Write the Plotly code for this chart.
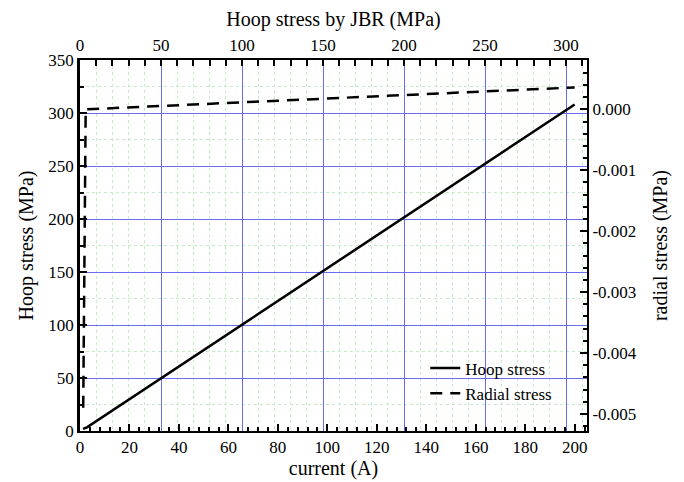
import plotly.graph_objects as go

# data
current_hoop = [1.2, 2.8, 200]
hoop_stress = [2.0, 3.5, 308]

current_radial = [1.3, 2.3, 200]
radial_stress = [-0.0049, 0.0, 0.00036]

jbr_ticks = [0, 50, 100, 150, 200, 250, 300]
radial_ticks = [0.0, -0.001, -0.002, -0.003, -0.004, -0.005]
radial_labels = ["0.000", "-0.001", "-0.002", "-0.003", "-0.004", "-0.005"]

FONT = "Liberation Serif, Times New Roman, serif"
BLUE = "#6c6cf0"
GREEN = "#c6ecc6"
BLACK = "#000000"

# minor positions that don't sit on a major line
top_minor = [v for v in range(0, 320, 10) if v % 50]
left_minor = [v for v in range(25, 350, 50)]

fig = go.Figure()

fig.add_trace(go.Scatter(
    x=current_hoop, y=hoop_stress, mode="lines", name="Hoop stress",
    line=dict(color=BLACK, width=2.5),
    xaxis="x", yaxis="y",
))
fig.add_trace(go.Scatter(
    x=current_radial, y=radial_stress, mode="lines", name="Radial stress",
    line=dict(color=BLACK, width=2.5, dash="12px,8px"),
    xaxis="x", yaxis="y2",
))
# keeps the top axis alive
fig.add_trace(go.Scatter(
    x=jbr_ticks, y=[0] * len(jbr_ticks), mode="markers",
    marker=dict(opacity=0), showlegend=False, hoverinfo="skip",
    xaxis="x2", yaxis="y",
))

tickfont = dict(family=FONT, size=17, color=BLACK)
titlefont = dict(family=FONT, size=20, color=BLACK)

# page body adds an 8px margin, so the figure is 8px smaller each way
# plot area 507 x 371 px so the grid lines land on whole pixels
fig.update_layout(
    width=676, height=474,
    paper_bgcolor="white", plot_bgcolor="white",
    margin=dict(l=72, r=97, t=52, b=51),
    font=dict(family=FONT, color=BLACK),
    showlegend=True,
    legend=dict(
        x=0.681, y=0.217, xanchor="left", yanchor="top",
        bgcolor="rgba(0,0,0,0)", font=dict(family=FONT, size=17, color=BLACK),
        tracegroupgap=4,
    ),
    xaxis=dict(
        title=dict(text="current (A)", font=titlefont, standoff=0),
        range=[0, 205], dtick=20, tick0=0, automargin=False,
        ticks="inside", ticklen=7, tickwidth=1.5, tickcolor=BLACK,
        minor=dict(dtick=4, ticks="inside", ticklen=4, tickwidth=1.5, tickcolor=BLACK, showgrid=False),
        showline=True, linecolor=BLACK, linewidth=2,
        showgrid=False, zeroline=False, tickfont=tickfont,
    ),
    xaxis2=dict(
        title=dict(text="Hoop stress by JBR (MPa)", font=titlefont, standoff=4),
        overlaying="x", side="top", anchor="y", automargin=False,
        range=[0, 507 / 81 * 50], dtick=50, tick0=0,
        ticks="inside", ticklen=6, tickwidth=1.5, tickcolor=BLACK,
        minor=dict(tickvals=top_minor, ticks="inside", ticklen=6, tickwidth=1.5, tickcolor=BLACK,
                   showgrid=True, gridcolor=GREEN, griddash="dot", gridwidth=1),
        showline=True, linecolor=BLACK, linewidth=2,
        showgrid=True, gridcolor=BLUE, gridwidth=1,
        zeroline=False, tickfont=tickfont,
    ),
    yaxis=dict(
        title=dict(text="Hoop stress (MPa)", font=titlefont, standoff=10),
        range=[0, 350], dtick=50, tick0=0, automargin=False,
        ticks="inside", ticklen=7, tickwidth=1.5, tickcolor=BLACK,
        minor=dict(tickvals=left_minor, ticks="inside", ticklen=4, tickwidth=1.5, tickcolor=BLACK,
                   showgrid=True, gridcolor=GREEN, griddash="dot", gridwidth=1),
        showline=True, linecolor=BLACK, linewidth=2.5,
        showgrid=True, gridcolor=BLUE, gridwidth=1,
        zeroline=False, tickfont=tickfont,
    ),
    yaxis2=dict(
        title=dict(text="radial stress (MPa)", font=titlefont, standoff=17),
        overlaying="y", side="right", anchor="x", automargin=False,
        range=[-0.00528, 0.00081],
        tickmode="array", tickvals=radial_ticks, ticktext=radial_labels,
        ticks="inside", ticklen=7, tickwidth=1.5, tickcolor=BLACK,
        minor=dict(dtick=0.0002, tick0=0, ticks="inside", ticklen=4, tickwidth=1.5,
                   tickcolor=BLACK, showgrid=False),
        showline=True, linecolor=BLACK, linewidth=2,
        showgrid=False, zeroline=False, tickfont=tickfont,
    ),
)

fig.write_html("out.html")
